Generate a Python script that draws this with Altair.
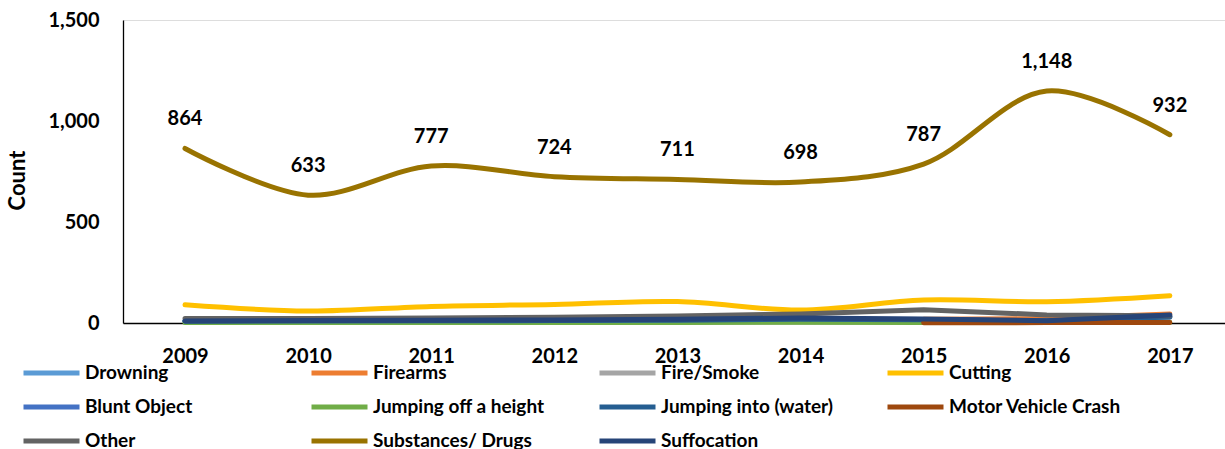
import altair as alt
import pandas as pd

years = [2009, 2010, 2011, 2012, 2013, 2014, 2015, 2016, 2017]

series_names = [
    "Drowning", "Firearms", "Fire/Smoke", "Cutting",
    "Blunt Object", "Jumping off a height", "Jumping into (water)", "Motor Vehicle Crash",
    "Other", "Substances/ Drugs", "Suffocation",
]
series_colors = [
    "#5B9BD5", "#ED7D31", "#A5A5A5", "#FFC000",
    "#4472C4", "#70AD47", "#255E91", "#9E480E",
    "#636363", "#997300", "#264478",
]

drowning = [9, 10, 11, 12, 14, 18, 16, 10, 30]
firearms = [None, None, None, None, None, None, 18, 22, 45]
fire_smoke = [8, 9, 10, 11, 13, 16, 15, 9, 28]
cutting = [90, 59, 82, 92, 106, 64, 114, 105, 135]
blunt_object = [10, 11, 12, 13, 15, 20, 17, 10, 32]
jumping_height = [2, 2, 2, 3, 3, 4, 2, 2, 3]
jumping_water = [9, 10, 11, 12, 14, 19, 16, 10, 30]
motor_vehicle = [None, None, None, None, None, None, 1, 2, 3]
other = [22, 22, 25, 28, 35, 45, 66, 40, 36]
substances = [864, 633, 777, 724, 711, 698, 787, 1148, 932]
suffocation = [10, 12, 13, 15, 18, 25, 20, 11, 40]

series_values = [
    drowning, firearms, fire_smoke, cutting,
    blunt_object, jumping_height, jumping_water, motor_vehicle,
    other, substances, suffocation,
]
smooth_series = ["Cutting", "Substances/ Drugs"]

rows = []
for order, (name, vals) in enumerate(zip(series_names, series_values)):
    for y, v in zip(years, vals):
        if v is not None:
            rows.append({"Year": y, "Series": name, "Count": v, "order": order})
df = pd.DataFrame(rows)

FONT = "Lato"

x_enc = alt.X(
    "Year:Q",
    scale=alt.Scale(domain=[2008.4963, 2017.448], nice=False, zero=False),
    axis=alt.Axis(
        title=None, values=years, format="d", ticks=False, tickSize=0,
        grid=False, domainColor="#000000", domainWidth=1.3,
        labelFont=FONT, labelFontSize=20, labelFontWeight="bold",
        labelColor="#000000", labelPadding=23, labelFlush=False,
    ),
)
y_enc = alt.Y(
    "Count:Q",
    scale=alt.Scale(domain=[0, 1500], nice=False),
    axis=alt.Axis(
        title="Count", values=[0, 500, 1000, 1500], format=",.0f", ticks=False,
        tickSize=0, grid=False, domainColor="#000000", domainWidth=1.3,
        labelFont=FONT, labelFontSize=20, labelFontWeight="bold",
        labelColor="#000000", labelPadding=24,
        titleFont=FONT, titleFontSize=22, titleFontWeight="bold",
        titleColor="#000000", titleAngle=270, titleX=-106, titleY=160,
        titleAlign="center", titleBaseline="middle",
    ),
)
color_enc = alt.Color(
    "Series:N",
    scale=alt.Scale(domain=series_names, range=series_colors),
    sort=series_names,
    legend=alt.Legend(
        title=None, orient="none", legendX=-102, legendY=343,
        columns=4, direction="horizontal", gridAlign="all",
        columnPadding=51, rowPadding=14, clipHeight=20,
        symbolType="stroke", symbolSize=3136, symbolStrokeWidth=5,
        symbolOffset=0, labelOffset=3, padding=0,
        labelFont=FONT, labelFontSize=19, labelFontWeight="bold",
        labelColor="#000000", labelLimit=400,
    ),
)

base = alt.Chart(df)

smooth_lines = base.transform_filter(
    alt.FieldOneOfPredicate(field="Series", oneOf=smooth_series)
).mark_line(strokeWidth=5, strokeCap="round", strokeJoin="round",
            interpolate="catmull-rom").encode(
    x=x_enc, y=y_enc, color=color_enc, order="order:Q"
)

straight_lines = base.transform_filter(
    ~alt.FieldOneOfPredicate(field="Series", oneOf=smooth_series)
).mark_line(strokeWidth=5, strokeCap="round", strokeJoin="round").encode(
    x=x_enc, y=y_enc, color=color_enc, order="Year:Q",
    detail="Series:N"
)

labels = base.transform_filter(
    alt.datum.Series == "Substances/ Drugs"
).mark_text(
    font=FONT, fontSize=20, fontWeight="bold", color="#000000",
    dy=-29, baseline="middle", align="center"
).encode(
    x=alt.X("Year:Q"), y=alt.Y("Count:Q"), text=alt.Text("Count:Q", format=",")
)

chart = alt.layer(smooth_lines, straight_lines, labels).properties(
    width=1102, height=303,
    autosize=alt.AutoSizeParams(type="none"),
    padding={"left": 123, "top": 20, "right": 0, "bottom": 126},
).configure_view(stroke=None).configure(background="#ffffff")

chart.save("out.html", embed_options={"renderer": "svg", "actions": False})
